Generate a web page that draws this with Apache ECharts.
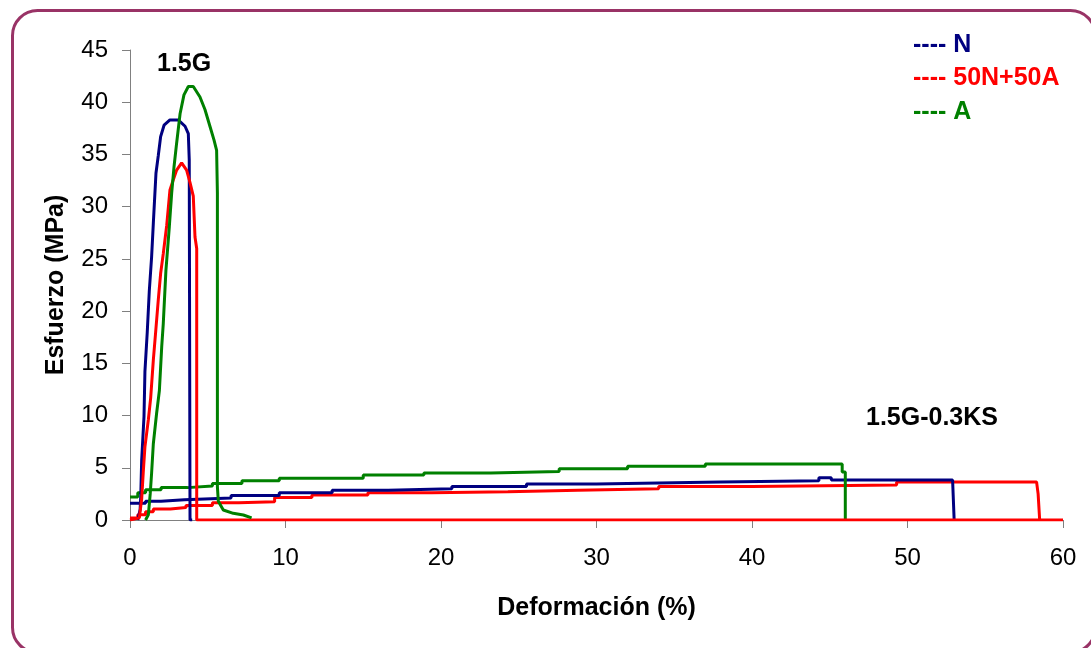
<!DOCTYPE html>
<html>
<head>
<meta charset="utf-8">
<script src="https://cdn.jsdelivr.net/npm/echarts@6/dist/echarts.min.js"></script>
<style>
html,body{margin:0;padding:0;background:#fff;}
#chart{width:1091px;height:648px;}
</style>
</head>
<body>
<div id="chart"></div>
<script>
// Series names and colours
const seriesNames = ['N', '50N+50A', 'A'];
const seriesColors = ['#000080', '#FF0000', '#008000'];

// 1.5G curves [deformation %, stress MPa]
const g15_N = [[0.5,0],[0.65,1.0],[0.69,2.2],[0.75,5.7],[0.9,9.9],[0.96,14.2],[1.11,18.0],[1.24,21.9],[1.39,25.2],[1.5,28.4],[1.67,33.2],[1.82,34.9],[1.97,36.7],[2.19,37.8],[2.57,38.3],[3.1,38.3],[3.54,37.7],[3.75,37.0],[3.81,34.5],[3.86,0.3],[3.86,0],[4.0,0]];
const g15_NA = [[0,0],[0.6,0.2],[0.75,2.0],[0.85,4.5],[0.96,7.0],[1.18,9.6],[1.33,11.7],[1.5,15.3],[1.65,18.0],[1.82,21.1],[1.97,23.6],[2.14,25.5],[2.36,28.2],[2.57,31.6],[2.79,32.6],[3.0,33.5],[3.32,34.2],[3.64,33.5],[3.86,32.3],[4.07,31.0],[4.18,27.1],[4.29,26.0],[4.29,0],[60,0]];
const g15_A = [[1.0,0],[1.18,0.5],[1.3,2.5],[1.39,4.5],[1.5,7.3],[1.71,10.2],[1.89,12.4],[2.04,16.6],[2.14,18.8],[2.31,23.9],[2.53,28.1],[2.68,31.3],[2.83,33.8],[3.0,36.1],[3.22,38.9],[3.47,40.7],[3.75,41.5],[4.07,41.5],[4.5,40.5],[4.82,39.3],[5.14,37.7],[5.4,36.4],[5.57,35.4],[5.62,31.3],[5.62,3.2],[5.68,1.8],[6.0,0.96],[6.64,0.64],[7.29,0.48],[7.82,0.2]];

// 1.5G-0.3KS curves
const ks_N = [[0,1.6],[1,1.8],[2,1.95],[3.5,2.1],[6.5,2.35],[9.6,2.6],[13,2.85],[16.6,3.0],[20.7,3.2],[25.5,3.45],[30,3.55],[34,3.65],[38,3.75],[44.3,4.05],[45.1,3.83],[52.9,3.83],[53.0,0]];
const ks_NA = [[0,0.2],[0.5,0.5],[1,0.8],[1.5,1.05],[2.6,1.2],[3.6,1.4],[5.3,1.65],[7.0,1.75],[9.3,2.15],[11.7,2.4],[15.3,2.6],[19.4,2.7],[24.3,2.85],[28.8,3.0],[34,3.2],[40,3.35],[49.3,3.65],[58.3,3.65],[58.4,2.5],[58.5,0]];
const ks_A = [[0,2.2],[0.5,2.6],[1,2.9],[2,3.1],[3.7,3.25],[5.3,3.5],[7.2,3.75],[9.6,4.0],[15.0,4.3],[18.9,4.5],[23.2,4.65],[27.6,4.9],[32,5.15],[37,5.35],[45.4,5.35],[45.8,4.6],[46.0,0]];

// Axis ticks
const xTicks = {min: 0, max: 60, interval: 10};
const yTicks = {min: 0, max: 45, interval: 5};

const chart = echarts.init(document.getElementById('chart'), null, {renderer: 'canvas'});
const FONT = 'Liberation Sans, Arial, sans-serif';

function lineSeries(name, data, color, step) {
  return {
    name: name, type: 'line', data: data, showSymbol: false, symbol: 'none',
    step: step || false, animation: false,
    lineStyle: {color: color, width: 3}, itemStyle: {color: color}
  };
}

const option = {
  backgroundColor: '#fff',
  animation: false,
  grid: {left: 130, right: 28, top: 50, bottom: 128, containLabel: false},
  xAxis: {
    type: 'value', min: xTicks.min, max: xTicks.max, interval: xTicks.interval,
    name: 'Deformación (%)', nameLocation: 'middle', nameGap: 76,
    nameTextStyle: {fontFamily: FONT, fontSize: 25, fontWeight: 'bold', color: '#000'},
    axisLine: {show: true, lineStyle: {color: '#808080', width: 1}},
    axisTick: {show: true, inside: false, length: 8, lineStyle: {color: '#808080'}},
    axisLabel: {fontFamily: FONT, fontSize: 24, color: '#000', margin: 26},
    splitLine: {show: false}
  },
  yAxis: {
    type: 'value', min: yTicks.min, max: yTicks.max, interval: yTicks.interval,
    name: 'Esfuerzo (MPa)', nameLocation: 'middle', nameGap: 61, nameRotate: 90,
    nameTextStyle: {fontFamily: FONT, fontSize: 25, fontWeight: 'bold', color: '#000'},
    axisLine: {show: true, lineStyle: {color: '#808080', width: 1}},
    axisTick: {show: true, inside: false, length: 8, lineStyle: {color: '#808080'}},
    axisLabel: {fontFamily: FONT, fontSize: 24, color: '#000', margin: 22},
    splitLine: {show: false}
  },
  legend: {
    show: true, orient: 'vertical', left: 903, top: 25,
    itemWidth: 0, itemHeight: 0, itemGap: 3.5,
    formatter: function (n) { return '---- ' + n; },
    data: seriesNames.map(function (n, i) {
      return {name: n, icon: 'rect', textStyle: {color: seriesColors[i], fontFamily: FONT, fontSize: 25, fontWeight: 'bold', lineHeight: 30}};
    }),
    textStyle: {fontFamily: FONT, fontSize: 25, fontWeight: 'bold'}
  },
  graphic: [
    {type: 'rect', left: 10, top: 8, z: 100, silent: true,
     shape: {x: 10, y: 8, width: 1083, height: 642, r: 25},
     style: {fill: 'none', stroke: '#993366', lineWidth: 3}},
    {type: 'text', left: 157, top: 52, z: 100, style: {text: '1.5G', fill: '#000', font: 'bold 25px ' + FONT, textVerticalAlign: 'middle'}},
    {type: 'text', left: 866, top: 406, z: 100, style: {text: '1.5G-0.3KS', fill: '#000', font: 'bold 25px ' + FONT, textVerticalAlign: 'middle'}}
  ],
  series: [
    lineSeries(seriesNames[1], ks_NA, seriesColors[1], 'end'),
    lineSeries(seriesNames[0], ks_N, seriesColors[0], 'end'),
    lineSeries(seriesNames[2], ks_A, seriesColors[2], 'end'),
    lineSeries(seriesNames[0], g15_N, seriesColors[0]),
    lineSeries(seriesNames[1], g15_NA, seriesColors[1]),
    lineSeries(seriesNames[2], g15_A, seriesColors[2])
  ]
};
chart.setOption(option);
</script>
</body>
</html>
